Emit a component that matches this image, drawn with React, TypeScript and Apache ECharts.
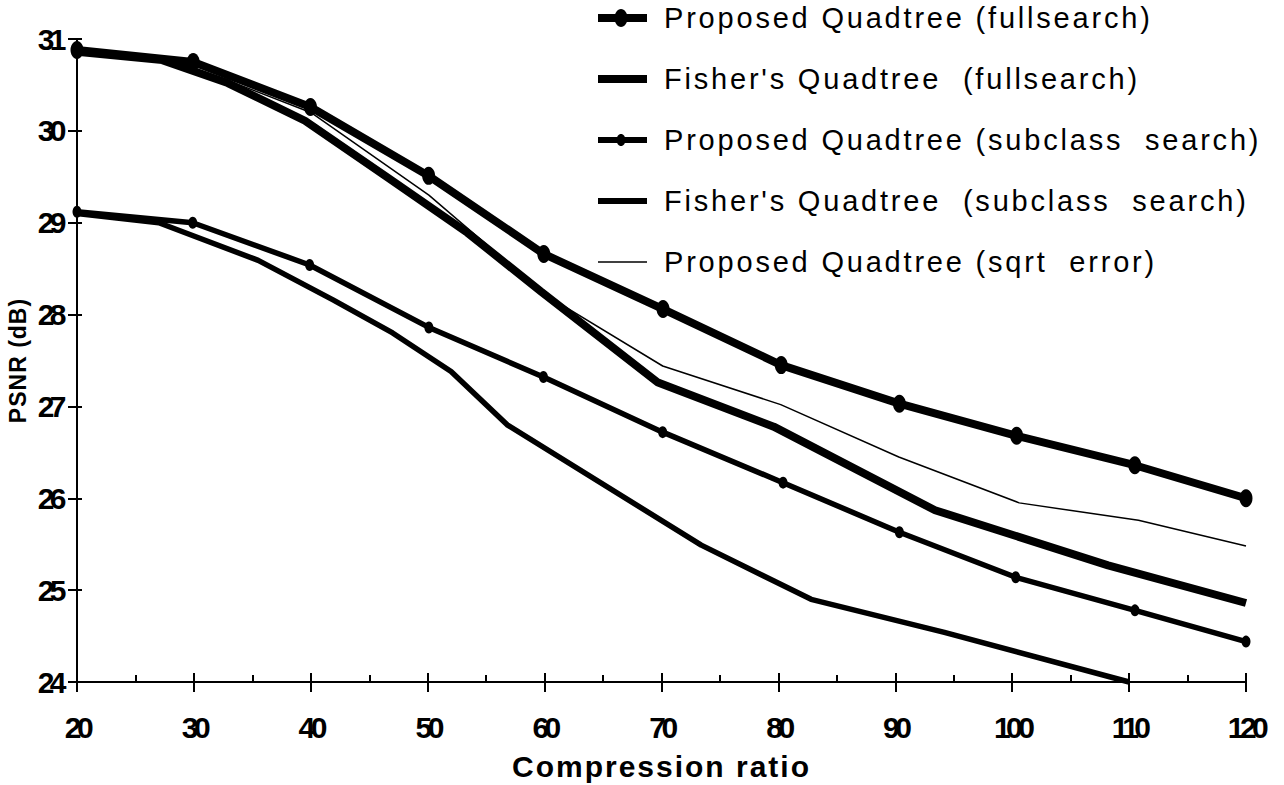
import React, { useEffect, useRef } from "react";
import * as echarts from "echarts";

const seriesNames = [
  "Proposed Quadtree (fullsearch)",
  "Fisher's Quadtree  (fullsearch)",
  "Proposed Quadtree (subclass  search)",
  "Fisher's Quadtree  (subclass  search)",
  "Proposed Quadtree (sqrt  error)",
];

const xProposedFull = [20, 29.94, 39.97, 50.08, 59.93, 70.13, 80.24, 90.35, 100.38, 110.49, 120];
const yProposedFull = [30.88, 30.75, 30.26, 29.51, 28.66, 28.06, 27.45, 27.03, 26.68, 26.36, 26.0];

const xFisherFull = [20, 27.3, 32.9, 39.5, 46.6, 53.4, 59.7, 69.7, 79.6, 93.4, 108.2, 120];
const yFisherFull = [30.86, 30.77, 30.52, 30.11, 29.49, 28.89, 28.25, 27.26, 26.78, 25.87, 25.27, 24.86];

const xProposedSub = [20, 29.9, 39.9, 50.1, 59.9, 70.1, 80.4, 90.35, 100.3, 110.5, 120];
const yProposedSub = [29.12, 29.0, 28.54, 27.86, 27.32, 26.72, 26.17, 25.63, 25.14, 24.78, 24.44];

const xFisherSub = [20, 27, 35.5, 41.9, 47, 52, 56.8, 73.4, 82.8, 94.2, 110];
const yFisherSub = [29.1, 29.0, 28.59, 28.16, 27.8, 27.38, 26.8, 25.49, 24.9, 24.54, 24.0];

const xSqrt = [20, 27.3, 32.9, 40, 50.1, 60, 70.1, 80.2, 90.3, 100.6, 110.8, 120];
const ySqrt = [30.87, 30.77, 30.55, 30.2, 29.3, 28.22, 27.44, 27.02, 26.45, 25.95, 25.76, 25.48];

const xAxisMin = 20;
const xAxisMax = 120;
const xAxisStep = 10;
const yAxisMin = 24;
const yAxisMax = 31;
const yAxisStep = 1;
const xAxisTitle = "Compression ratio";
const yAxisTitle = "PSNR (dB)";

const FONT = "'Liberation Sans', Arial, Helvetica, sans-serif";

const pairs = (xs: number[], ys: number[]) => xs.map((x, i) => [x, ys[i]]);

function applySpacing(root: HTMLElement | null) {
  if (!root) return;
  root.querySelectorAll("text").forEach((t) => {
    const s = t.textContent || "";
    if (seriesNames.includes(s)) {
      t.setAttribute("letter-spacing", "2.8");
      (t as any).style.whiteSpace = "pre";
    } else if (s === xAxisTitle) {
      t.setAttribute("letter-spacing", "2");
    } else if (s === yAxisTitle) {
      t.setAttribute("letter-spacing", "1");
    } else if (/^\d+$/.test(s)) {
      t.setAttribute("letter-spacing", "-4.5");
    }
  });
}

export default function App() {
  const ref = useRef<HTMLDivElement>(null);

  useEffect(() => {
    const el = ref.current!;
    const chart = echarts.init(el, null, { renderer: "svg", width: 1284, height: 785 });

    const black = "#000";
    const legendRows = [18, 79, 140, 201, 262];
    const legendIcon = [
      { w: 8, marker: [6.5, 9] },
      { w: 8, marker: null },
      { w: 6, marker: [4.5, 6] },
      { w: 6, marker: null },
      { w: 1.5, marker: null },
    ];
    const graphic: any[] = [];
    legendRows.forEach((y, i) => {
      graphic.push({
        type: "line",
        shape: { x1: 598, y1: y, x2: 647, y2: y },
        style: { stroke: black, lineWidth: legendIcon[i].w },
        silent: true,
      });
      const m = legendIcon[i].marker;
      if (m) {
        graphic.push({
          type: "ellipse",
          shape: { cx: 621, cy: y, rx: m[0], ry: m[1] },
          style: { fill: black },
          silent: true,
        });
      }
      graphic.push({
        type: "text",
        x: 664,
        y: y,
        style: {
          text: seriesNames[i],
          fill: black,
          fontSize: 29,
          fontFamily: FONT,
          verticalAlign: "middle",
          textVerticalAlign: "middle",
          align: "left",
        },
        silent: true,
      });
    });

    const tickLine = { color: black, width: 2 };

    const option: any = {
      animation: false,
      backgroundColor: "#fff",
      grid: {
        left: 77,
        top: 39,
        right: 38,
        bottom: 103,
        containLabel: false,
        outerBoundsMode: "none",
      },
      xAxis: [
        {
          type: "value",
          position: "bottom",
          min: xAxisMin,
          max: xAxisMax,
          interval: xAxisStep,
          axisLine: { show: true, onZero: false, lineStyle: tickLine },
          axisTick: { show: true, length: 10, lineStyle: tickLine },
          axisLabel: {
            color: black,
            fontSize: 30,
            fontWeight: "bold",
            fontFamily: FONT,
            margin: 30,
          },
          splitLine: { show: false },
          name: xAxisTitle,
          nameLocation: "middle",
          nameGap: 69,
          nameMoveOverlap: false,
          nameTextStyle: { color: black, fontSize: 30, fontWeight: "bold", fontFamily: FONT },
        },
        {
          type: "value",
          position: "bottom",
          min: xAxisMin,
          max: xAxisMax,
          interval: xAxisStep,
          axisLine: { show: false, onZero: false },
          axisTick: { show: true, inside: true, length: 9, lineStyle: tickLine },
          minorTick: { show: true, splitNumber: 2, length: 7, lineStyle: tickLine },
          axisLabel: { show: false },
          splitLine: { show: false },
          minorSplitLine: { show: false },
        },
      ],
      yAxis: [
        {
          type: "value",
          position: "left",
          min: yAxisMin,
          max: yAxisMax,
          interval: yAxisStep,
          axisLine: { show: true, onZero: false, lineStyle: tickLine },
          axisTick: { show: true, length: 9, lineStyle: tickLine },
          axisLabel: {
            color: black,
            fontSize: 30,
            fontWeight: "bold",
            fontFamily: FONT,
            margin: 15,
          },
          splitLine: { show: false },
          name: yAxisTitle,
          nameLocation: "middle",
          nameGap: 48,
          nameRotate: 90,
          nameMoveOverlap: false,
          nameTextStyle: { color: black, fontSize: 23, fontWeight: "bold", fontFamily: FONT },
        },
        {
          type: "value",
          position: "left",
          min: yAxisMin,
          max: yAxisMax,
          interval: yAxisStep,
          axisLine: { show: false, onZero: false },
          axisTick: { show: true, inside: true, length: 5, lineStyle: tickLine },
          axisLabel: { show: false },
          splitLine: { show: false },
        },
      ],
      series: [
        {
          name: seriesNames[0],
          type: "line",
          data: pairs(xProposedFull, yProposedFull),
          symbol: "circle",
          symbolSize: [13, 18],
          showAllSymbol: true,
          clip: false,
          lineStyle: { color: black, width: 8 },
          itemStyle: { color: black },
          silent: true,
          z: 2,
        },
        {
          name: seriesNames[1],
          type: "line",
          data: pairs(xFisherFull, yFisherFull),
          symbol: "none",
          clip: false,
          lineStyle: { color: black, width: 8 },
          itemStyle: { color: black },
          silent: true,
          z: 2,
        },
        {
          name: seriesNames[2],
          type: "line",
          data: pairs(xProposedSub, yProposedSub),
          symbol: "circle",
          symbolSize: [9, 12],
          showAllSymbol: true,
          clip: false,
          lineStyle: { color: black, width: 5.5 },
          itemStyle: { color: black },
          silent: true,
          z: 2,
        },
        {
          name: seriesNames[3],
          type: "line",
          data: pairs(xFisherSub, yFisherSub),
          symbol: "none",
          clip: false,
          lineStyle: { color: black, width: 5.5 },
          itemStyle: { color: black },
          silent: true,
          z: 2,
        },
        {
          name: seriesNames[4],
          type: "line",
          data: pairs(xSqrt, ySqrt),
          symbol: "none",
          clip: false,
          lineStyle: { color: black, width: 1.5 },
          itemStyle: { color: black },
          silent: true,
          z: 3,
        },
      ],
      graphic,
    };

    chart.setOption(option);
    applySpacing(el);
    const onFinished = () => applySpacing(el);
    chart.on("finished", onFinished);

    return () => {
      chart.off("finished", onFinished);
      chart.dispose();
    };
  }, []);

  return (
    <div
      ref={ref}
      style={{ position: "absolute", left: 0, top: 0, width: 1284, height: 785, background: "#fff" }}
    />
  );
}
